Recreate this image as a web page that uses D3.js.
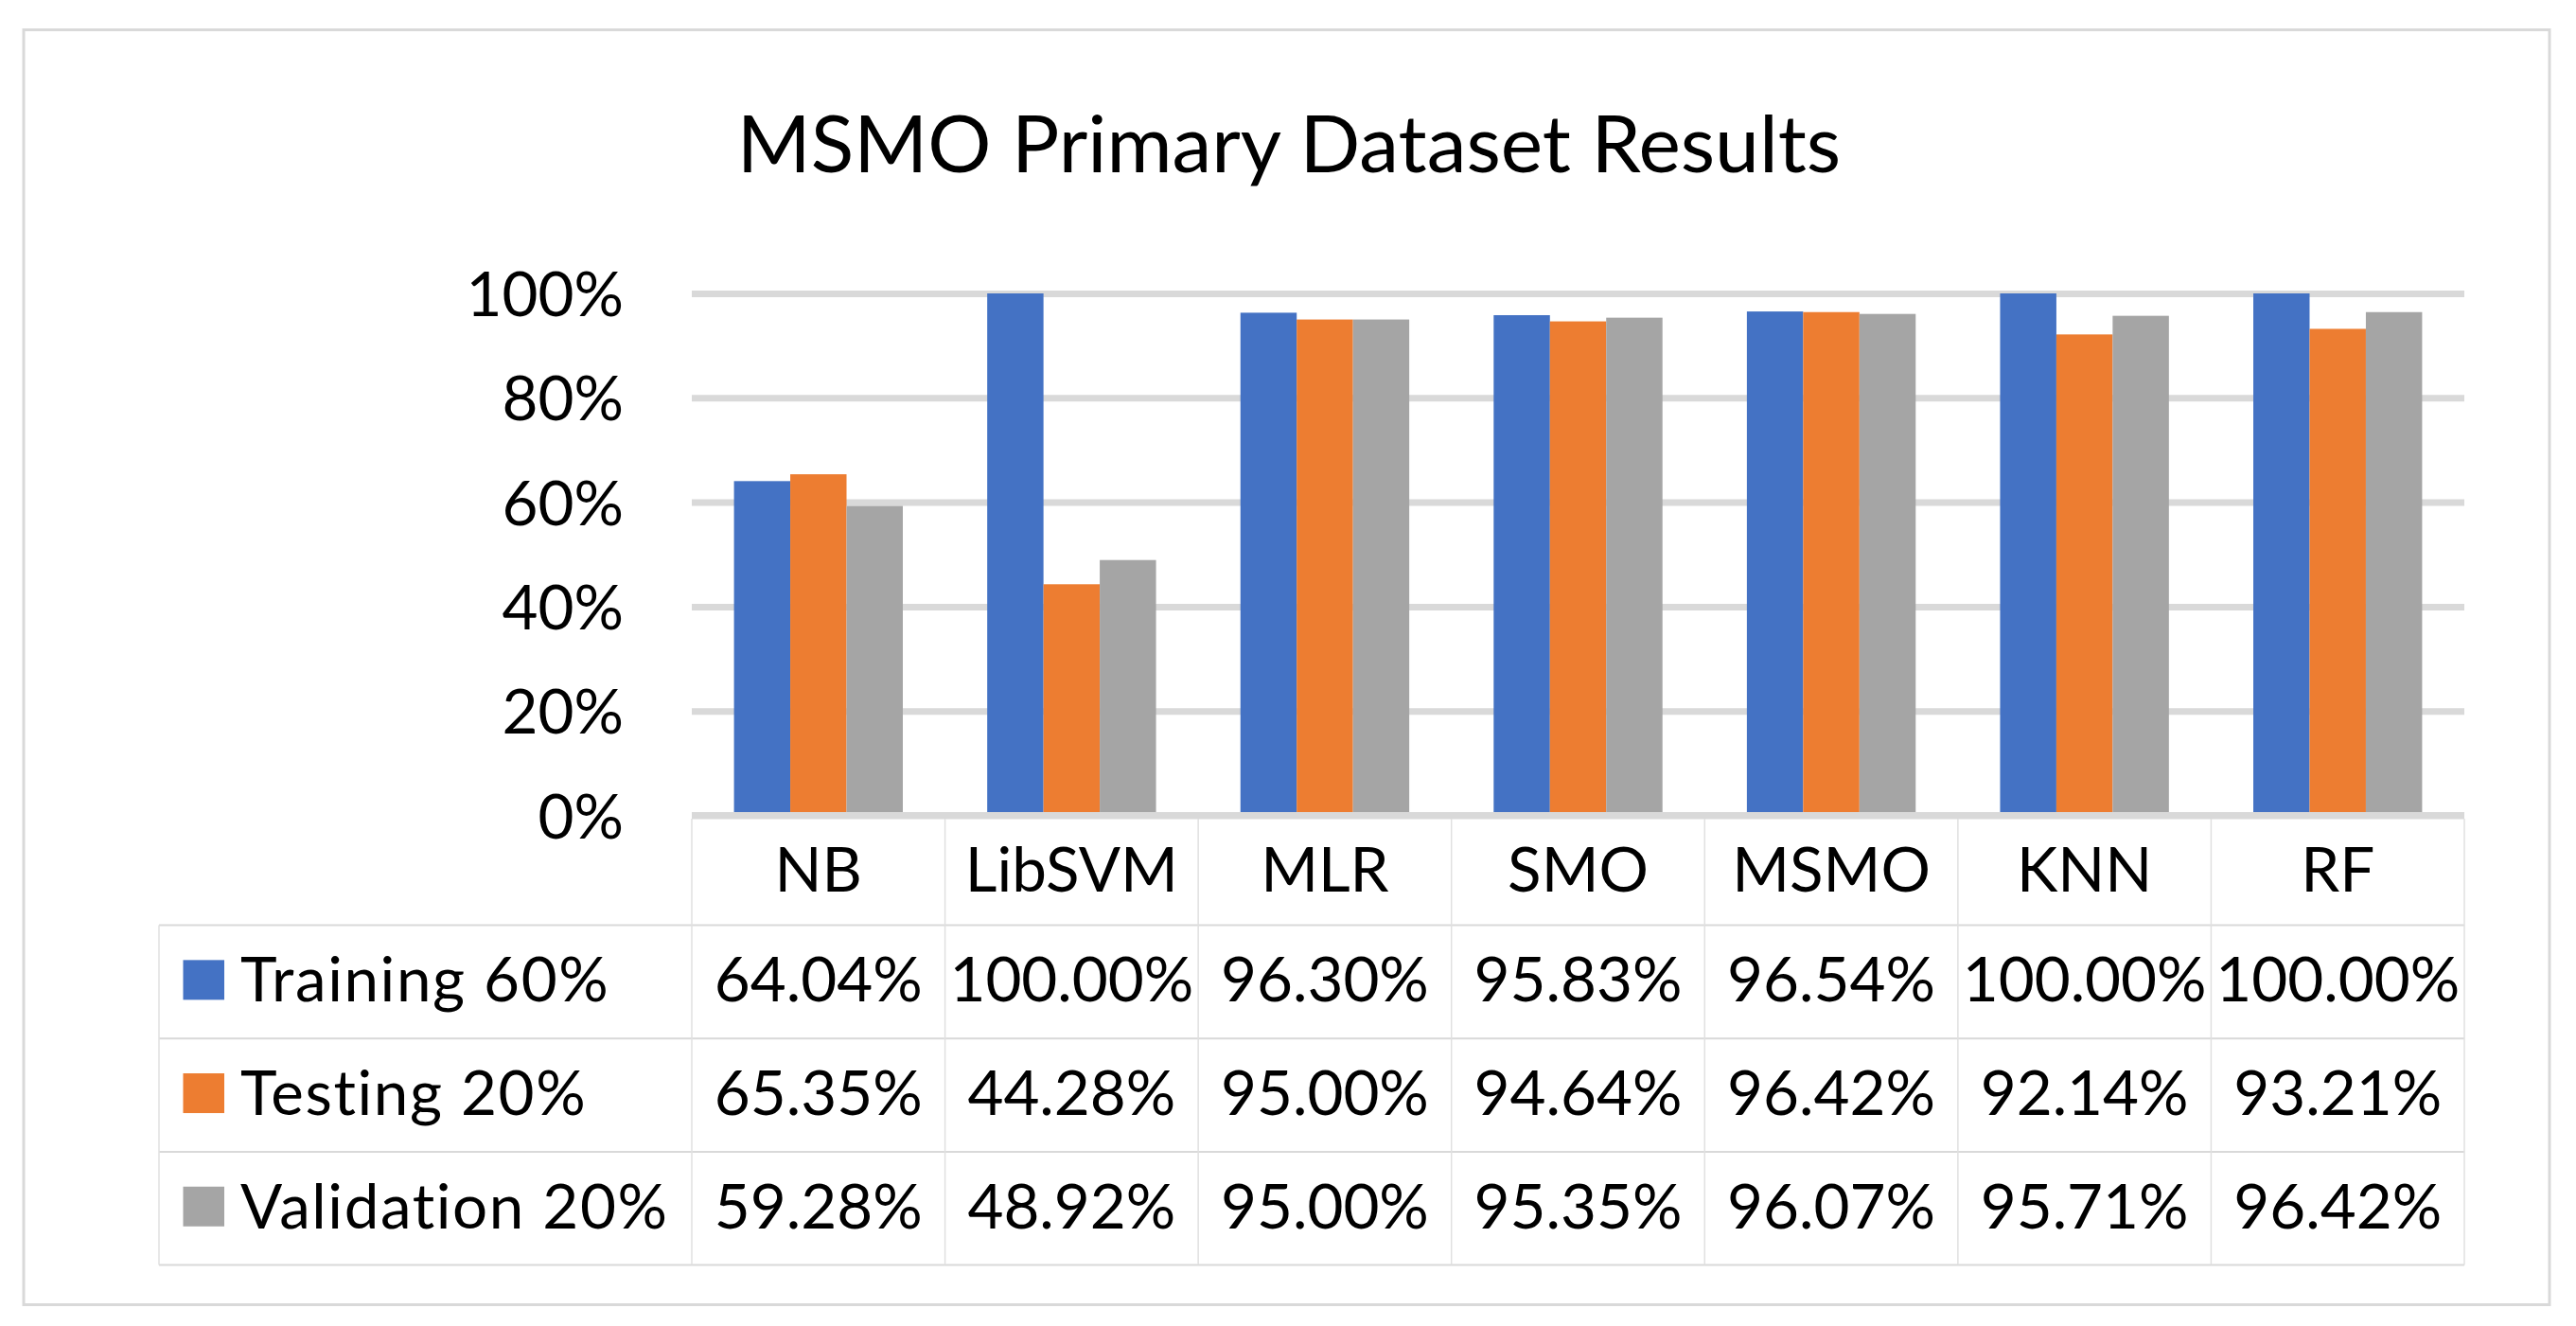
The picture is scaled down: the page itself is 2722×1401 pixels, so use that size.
<!DOCTYPE html>
<html>
<head>
<meta charset="utf-8">
<script src="https://cdn.jsdelivr.net/npm/d3@7"></script>
<style>
  html, body { margin: 0; padding: 0; background: #ffffff; }
  svg { display: block; }
  text { font-family: Lato, "Open Sans", sans-serif; fill: #000; }
</style>
</head>
<body>
<script>
// ---- data ----
const title = "MSMO Primary Dataset Results";
const categories = ["NB", "LibSVM", "MLR", "SMO", "MSMO", "KNN", "RF"];
const seriesNames = ["Training 60%", "Testing 20%", "Validation 20%"];
const training = [64.04, 100.00, 96.30, 95.83, 96.54, 100.00, 100.00];
const testing = [65.35, 44.28, 95.00, 94.64, 96.42, 92.14, 93.21];
const validation = [59.28, 48.92, 95.00, 95.35, 96.07, 95.71, 96.42];
const yTicks = [0, 20, 40, 60, 80, 100];
const colors = ["#4472C4", "#ED7D31", "#A5A5A5"];

const series = [training, testing, validation];

// ---- layout ----
const W = 2722, H = 1401;
const plotL = 731, plotR = 2604, plotT = 310, plotB = 861.5;
const tableL = 168;
const headerH = 116, rowH = 119.7;
const labelSize = 65.5, titleSize = 84;

const svg = d3.select("body").append("svg").attr("width", W).attr("height", H);

// outer frame
svg.append("rect")
  .attr("x", 25).attr("y", 31.5).attr("width", 2669).attr("height", 1347)
  .attr("fill", "#fff").attr("stroke", "#D9D9D9").attr("stroke-width", 3);

// title
svg.append("text")
  .attr("x", 1362).attr("y", 182)
  .attr("text-anchor", "middle")
  .style("font-size", titleSize + "px")
  .text(title);

const x = d3.scaleBand().domain(categories).range([plotL, plotR]).paddingInner(0).paddingOuter(0);
const barW = x.bandwidth() / 4.5;
const xs = d3.scaleBand().domain(seriesNames).range([0, barW * 3]);
const y = d3.scaleLinear().domain([0, 100]).range([plotB, plotT]);

// gridlines + y labels
const yAxis = d3.axisLeft(y)
  .tickValues(yTicks)
  .tickSize(-(plotR - plotL))
  .tickPadding(72)
  .tickFormat(d => d + "%");

const gy = svg.append("g").attr("transform", `translate(${plotL},0)`).call(yAxis);
gy.select(".domain").remove();
gy.selectAll(".tick line").attr("stroke", "#D9D9D9").attr("stroke-width", 7);
gy.selectAll(".tick text")
  .attr("fill", "#000")
  .style("font-size", labelSize + "px")
  .style("font-family", "Lato, 'Open Sans', sans-serif")
  .attr("dy", "0.36em");

// bars
const gBars = svg.append("g");
series.forEach((vals, si) => {
  gBars.selectAll(null)
    .data(categories.map((c, i) => ({ c, v: vals[i] })))
    .enter().append("rect")
    .attr("x", d => x(d.c) + barW * 0.75 + xs(seriesNames[si]))
    .attr("y", d => y(d.v))
    .attr("width", xs.bandwidth())
    .attr("height", d => y(0) - y(d.v))
    .attr("fill", colors[si]);
});

// baseline over bars
svg.append("line")
  .attr("x1", plotL).attr("x2", plotR)
  .attr("y1", y(0)).attr("y2", y(0))
  .attr("stroke", "#D9D9D9").attr("stroke-width", 7);

// ---- data table ----
const rowTop = i => plotB + headerH + i * rowH;
const tableBottom = rowTop(3);
const gT = svg.append("g");

// horizontal lines
for (let i = 0; i <= 3; i++) {
  gT.append("line")
    .attr("x1", tableL).attr("x2", plotR)
    .attr("y1", rowTop(i)).attr("y2", rowTop(i))
    .attr("stroke", "#D9D9D9").attr("stroke-width", 2);
}
// vertical lines
const edges = categories.map(c => x(c)).concat([plotR]);
edges.forEach(ex => {
  gT.append("line")
    .attr("x1", ex).attr("x2", ex)
    .attr("y1", plotB + 3.5).attr("y2", tableBottom)
    .attr("stroke", "#E0E0E0").attr("stroke-width", 1.5);
});
gT.append("line")
  .attr("x1", tableL).attr("x2", tableL)
  .attr("y1", rowTop(0)).attr("y2", tableBottom)
  .attr("stroke", "#E0E0E0").attr("stroke-width", 1.5);

// header labels
gT.selectAll(".hdr")
  .data(categories).enter().append("text")
  .attr("class", "hdr")
  .attr("x", d => x(d) + x.bandwidth() / 2)
  .attr("y", plotB + headerH / 2 + 22)
  .attr("text-anchor", "middle")
  .style("font-size", labelSize + "px")
  .text(d => d);

// rows
series.forEach((vals, si) => {
  const cy = rowTop(si) + rowH / 2;
  gT.append("rect")
    .attr("x", 193.5).attr("y", cy - 23)
    .attr("width", 43.5).attr("height", 42)
    .attr("fill", colors[si]);
  gT.append("text")
    .attr("x", 254).attr("y", cy + 21)
    .style("font-size", labelSize + "px")
    .style("letter-spacing", "1.6px")
    .text(seriesNames[si]);
  gT.selectAll(null)
    .data(categories.map((c, i) => ({ c, v: vals[i] })))
    .enter().append("text")
    .attr("x", d => x(d.c) + x.bandwidth() / 2)
    .attr("y", cy + 21)
    .attr("text-anchor", "middle")
    .style("font-size", labelSize + "px")
    .text(d => d.v.toFixed(2) + "%");
});
</script>
</body>
</html>
